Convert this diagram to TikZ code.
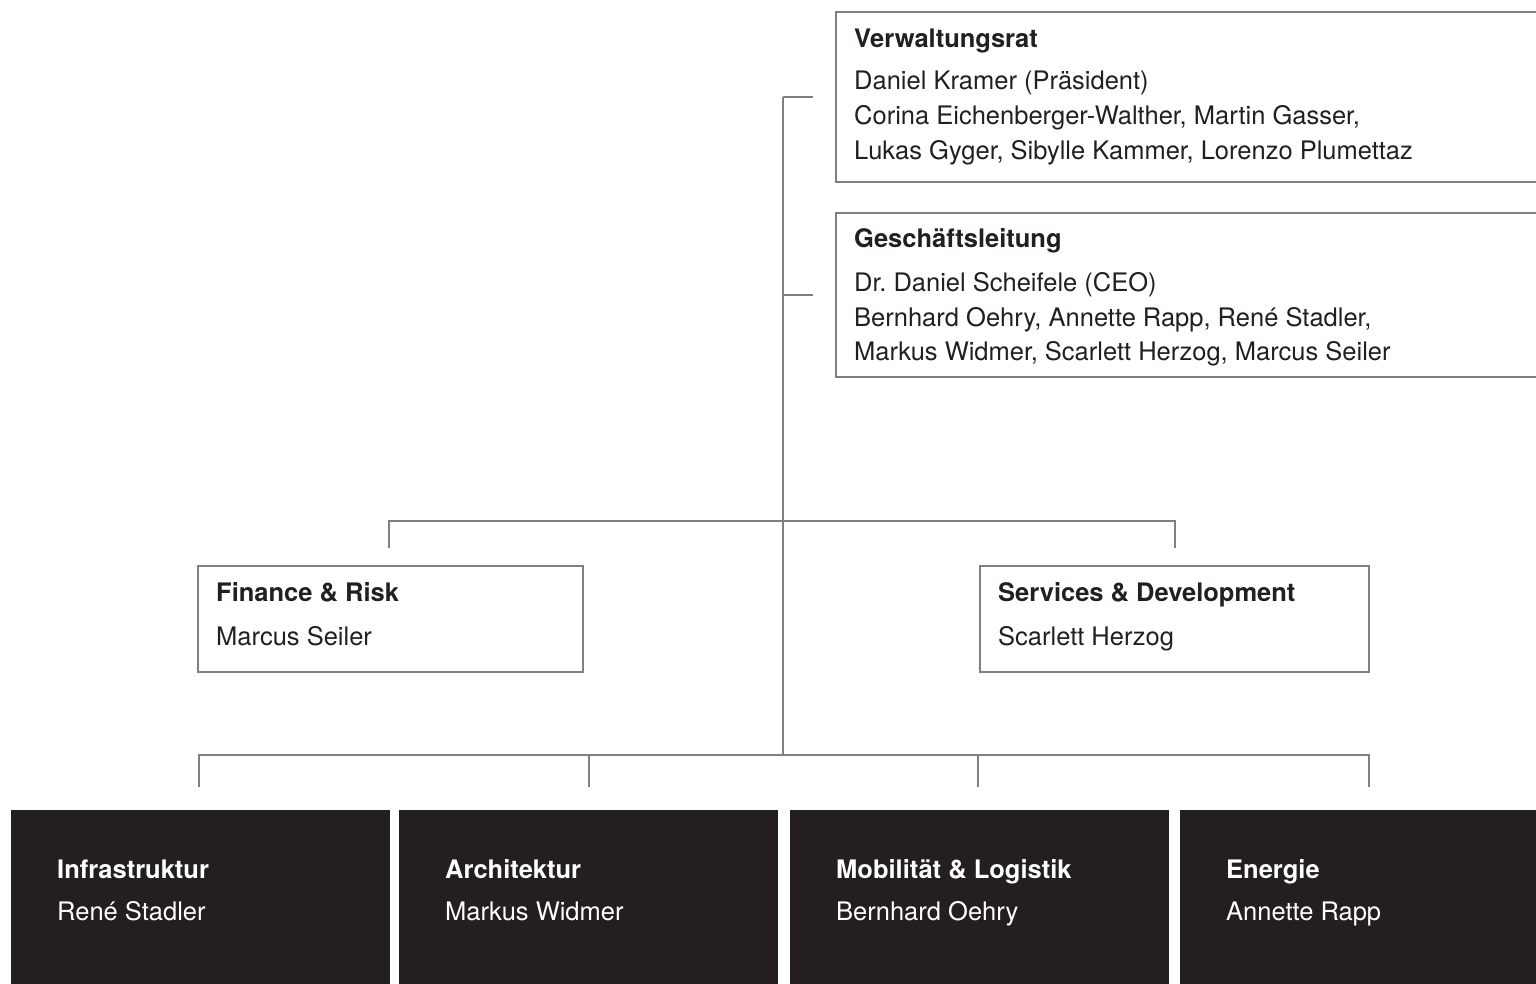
\documentclass[tikz,border=0pt]{standalone}
\usepackage{fontspec}
\setmainfont{TeX Gyre Heros}
\definecolor{ink}{HTML}{231F20}
\definecolor{linegray}{HTML}{808083}
\frenchspacing
\begin{document}
\begin{tikzpicture}[x=1pt,y=-1pt,
  conn/.style={draw=linegray,line width=2pt},
  frame/.style={draw=linegray,line width=2pt,fill=white},
  darkbox/.style={fill=ink,draw=none},
  txt/.style={anchor=base west,inner sep=0pt,text=ink,font=\fontsize{25.5}{29}\selectfont},
  ttl/.style={txt,font=\fontsize{25.5}{29}\selectfont\bfseries},
  wtxt/.style={txt,text=white},
  wttl/.style={ttl,text=white}]
\useasboundingbox (0,0) rectangle (1536,984);
\clip (0,0) rectangle (1536,984);
% boxes
\path[frame] (836,12) rectangle (1560,182);
\path[frame] (836,213) rectangle (1560,377);
\path[frame] (198,566) rectangle (583,672);
\path[frame] (980,566) rectangle (1369,672);
\path[darkbox] (11,810) rectangle (390,990);
\path[darkbox] (399,810) rectangle (778,990);
\path[darkbox] (790,810) rectangle (1169,990);
\path[darkbox] (1180,810) rectangle (1560,990);
% text
\node[ttl] (vr) at (854,48) {Verwaltungsrat};
\node[txt] (vr1) at (854,90) {Daniel Kramer (Präsident)};
\node[txt] (vr2) at (854,125) {Corina Eichenberger-Walther, Martin Gasser,};
\node[txt] (vr3) at (854,160) {Lukas Gyger, Sibylle Kammer, Lorenzo Plumettaz};
\node[ttl] (gl) at (854,248) {Geschäftsleitung};
\node[txt] (gl1) at (854,291) {Dr. Daniel Scheifele (CEO)};
\node[txt] (gl2) at (854,326) {Bernhard Oehry, Annette Rapp, René Stadler,};
\node[txt] (gl3) at (854,360) {Markus Widmer, Scarlett Herzog, Marcus Seiler};
\node[ttl] (fr) at (216,601) {Finance \& Risk};
\node[txt] (fr1) at (216,645) {Marcus Seiler};
\node[ttl] (sd) at (998,601) {Services \& Development};
\node[txt] (sd1) at (998,645) {Scarlett Herzog};
\node[wttl] (inf) at (57,878) {Infrastruktur};
\node[wtxt] (inf1) at (57,920) {René Stadler};
\node[wttl] (arc) at (445,878) {Architektur};
\node[wtxt] (arc1) at (445,920) {Markus Widmer};
\node[wttl] (mob) at (836,878) {Mobilität \& Logistik};
\node[wtxt] (mob1) at (836,920) {Bernhard Oehry};
\node[wttl] (ene) at (1226,878) {Energie};
\node[wtxt] (ene1) at (1226,920) {Annette Rapp};
% connectors
\coordinate (tvr) at (783,97);
\coordinate (tgl) at (783,295);
\coordinate (tmid) at (783,521);
\coordinate (tbot) at (783,755);
\coordinate (svr) at (813,97);
\coordinate (sgl) at (813,295);
\coordinate (mfl) at (389,521);
\coordinate (mfr) at (1175,521);
\coordinate (mfle) at (389,548);
\coordinate (mfre) at (1175,548);
\coordinate (b1) at (199,755);
\coordinate (b2) at (589,755);
\coordinate (b3) at (978,755);
\coordinate (b4) at (1369,755);
\coordinate (b1e) at (199,787);
\coordinate (b2e) at (589,787);
\coordinate (b3e) at (978,787);
\coordinate (b4e) at (1369,787);
\draw[conn] (tvr) -- (tbot);
\draw[conn] (tvr) -- (svr);
\draw[conn] (tgl) -- (sgl);
\draw[conn] (mfle) -- (mfl) -- (mfr) -- (mfre);
\draw[conn] (b1e) -- (b1) -- (b4) -- (b4e);
\draw[conn] (b2) -- (b2e);
\draw[conn] (b3) -- (b3e);
\end{tikzpicture}
\end{document}
